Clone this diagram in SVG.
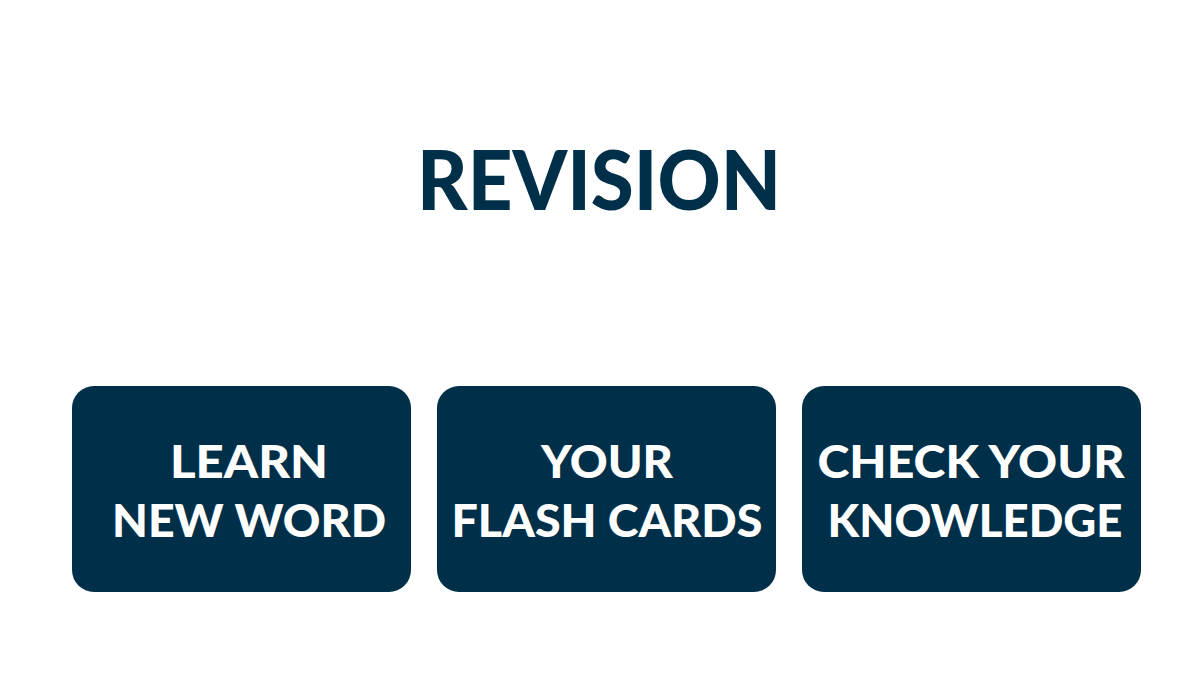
<svg xmlns="http://www.w3.org/2000/svg" width="1200" height="675" viewBox="0 0 1200 675">
<style>
.box{fill:#003049}
.lbl{font-family:Lato,"Liberation Sans",sans-serif;font-weight:900;font-size:46px;fill:#ffffff;text-anchor:middle}
.title{font-family:Lato,"Liberation Sans",sans-serif;font-weight:900;font-size:82px;fill:#003049;text-anchor:middle}
</style>
<rect width="1200" height="675" fill="#ffffff"/>
<g id="title"><text class="title" x="599" y="210" textLength="364" lengthAdjust="spacingAndGlyphs">REVISION</text></g>
<g id="connectors"></g>
<g id="node-learn">
<rect class="box" x="72" y="386" width="339" height="206" rx="22"/>
<text class="lbl" x="249" y="478" textLength="158" lengthAdjust="spacingAndGlyphs">LEARN</text>
<text class="lbl" x="249" y="537" textLength="274" lengthAdjust="spacingAndGlyphs">NEW WORD</text>
</g>
<g id="node-flash">
<rect class="box" x="437" y="386" width="339" height="206" rx="22"/>
<text class="lbl" x="607" y="478" textLength="132" lengthAdjust="spacingAndGlyphs">YOUR</text>
<text class="lbl" x="607" y="537" textLength="311" lengthAdjust="spacingAndGlyphs">FLASH CARDS</text>
</g>
<g id="node-check">
<rect class="box" x="802" y="386" width="339" height="206" rx="22"/>
<text class="lbl" x="971" y="478" textLength="307" lengthAdjust="spacingAndGlyphs">CHECK YOUR</text>
<text class="lbl" x="975" y="537" textLength="295" lengthAdjust="spacingAndGlyphs">KNOWLEDGE</text>
</g>
</svg>
